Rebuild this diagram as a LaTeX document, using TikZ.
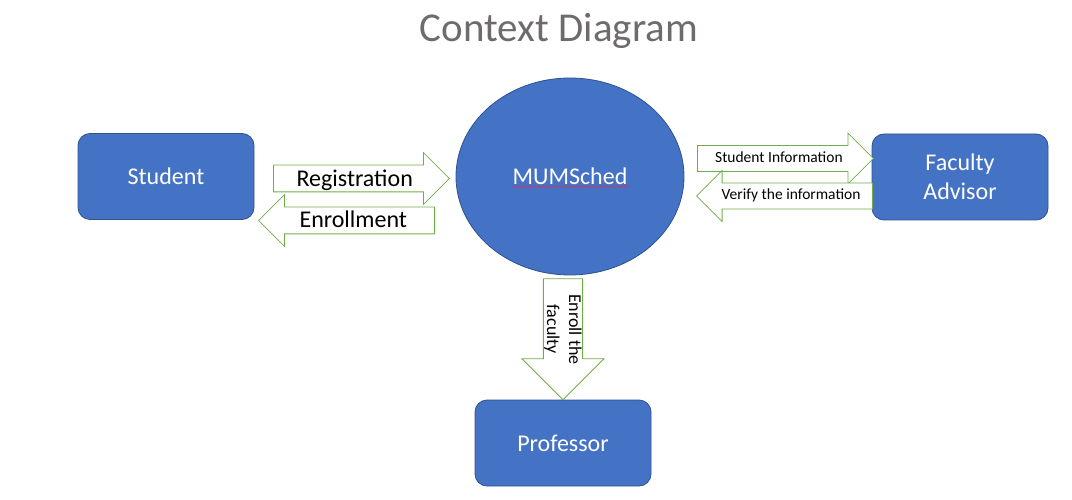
\documentclass[tikz,border=0pt]{standalone}
\usepackage{fontspec}
\setmainfont{Carlito}
\usepackage{xcolor}
\usepackage{tikz}
\usetikzlibrary{shapes,shapes.arrows,positioning,calc,decorations.pathmorphing}

\definecolor{boxblue}{HTML}{4472C4}
\definecolor{boxline}{HTML}{2F528F}
\definecolor{flowgreen}{HTML}{70AD47}
\definecolor{titlegray}{HTML}{6F6B6B}
\definecolor{spellred}{RGB}{205,55,105}

\tikzset{
    entity/.style={rectangle, rounded corners=12pt, draw=boxline, line width=0.8pt, fill=boxblue,
        text=white, align=center, minimum width=176pt, minimum height=86pt, font=\fontsize{24}{29}\selectfont},
    process/.style={ellipse, draw=boxline, line width=0.8pt, fill=boxblue, text=white, inner sep=0pt,
        minimum width=228pt, minimum height=197pt, font=\fontsize{24}{29}\selectfont},
    flow/.style={single arrow, draw=flowgreen, line width=0.8pt, fill=white, inner sep=0pt,
        single arrow tip angle=90, single arrow head extend=12.5pt,
        minimum height=176pt, minimum width=51pt, anchor=tail},
    bigflow/.style={flow, text height=20.5pt, text depth=5.5pt, font=\fontsize{24}{29}\selectfont},
    smallflow/.style={flow, text height=16.5pt, text depth=8.5pt, font=\fontsize{15.5}{18}\selectfont},
}

\begin{document}
\begin{tikzpicture}[x=1pt, y=-1pt, node distance=404pt]
    \useasboundingbox (0,0) rectangle (1072,500);

    \node [text=titlegray, font=\fontsize{41}{48}\selectfont, anchor=base] (title) at (559,41.5) {Context Diagram};

    \node [process] (mum) at (570,176.5) {MUMSched};
    \node [entity, left of=mum] (student) {Student};
    \node [entity, right of=mum, node distance=390pt, yshift=-0.5pt] (advisor) {Faculty\\Advisor};
    \node [entity, below of=mum, node distance=266.5pt, xshift=-7pt] (prof) {Professor};

    % spell check line
    \draw [spellred, line width=0.6pt, decorate, decoration={snake, amplitude=0.8pt, segment length=3pt}]
        ([xshift=-57pt, yshift=-10pt]mum.center) -- ([xshift=60pt, yshift=-10pt]mum.center);

    % data flows
    \node [bigflow] (reg) at (273,178.5) {Registration};
    \node [bigflow, shape border rotate=180] (enr) at (435,220.5) {Enrollment};
    \node [smallflow] (info) at (697,158.5) {Student Information};
    \node [smallflow, shape border rotate=180] (verify) at (873,196) {Verify the information};
    \node [flow, rotate=-90, align=center, single arrow head extend=20.8pt,
        minimum height=121pt, minimum width=82pt, font=\fontsize{18}{22}\selectfont] (enroll) at (563,278.3) {Enroll the\\faculty};
\end{tikzpicture}
\end{document}
